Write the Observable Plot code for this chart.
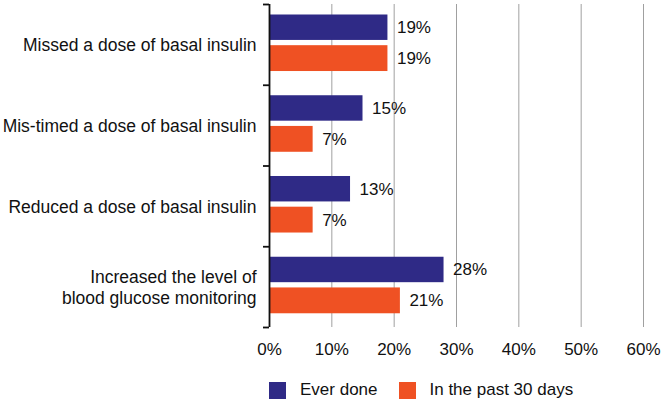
<!DOCTYPE html>
<html>
<head>
<meta charset="utf-8">
<script src="https://cdn.jsdelivr.net/npm/d3@7"></script>
<script src="https://cdn.jsdelivr.net/npm/@observablehq/plot@0.6"></script>
<style>
  body { margin: 0; background: #fff; font-family: "Liberation Sans", Arial, Helvetica, sans-serif; }
  #legend { display: flex; align-items: center; padding-left: 269px; padding-top: 5px; height: 26px; font-size: 17px; color: #111; }
  .item { display: flex; align-items: center; margin-right: 21px; }
  .sw { width: 17px; height: 17px; margin-right: 14px; }
</style>
</head>
<body>
<div id="chart"></div>
<div id="legend"></div>
<script>
const categories = [
  "Missed a dose of basal insulin",
  "Mis-timed a dose of basal insulin",
  "Reduced a dose of basal insulin",
  "Increased the level of\nblood glucose monitoring"
];
const series = ["Ever done", "In the past 30 days"];
const everDone = [19, 15, 13, 28];
const past30Days = [19, 7, 7, 21];
const xTicks = [0, 10, 20, 30, 40, 50, 60];
const colors = ["#2f2a86", "#ef5123"];

// layout: position of each series bar inside a category band (fraction of band)
const barOffsets = [[0.13, 0.445], [0.51, 0.83]];

const rows = [];
categories.forEach((c, i) => {
  [everDone, past30Days].forEach((vals, j) => {
    rows.push({cat: c, series: series[j], value: vals[i], y1: i + barOffsets[j][0], y2: i + barOffsets[j][1]});
  });
});
const labels = categories.map((c, i) => ({cat: c, y: i + 0.5}));

const chart = Plot.plot({
  width: 661,
  height: 372,
  marginLeft: 269,
  marginRight: 18,
  marginTop: 4,
  marginBottom: 45,
  style: {fontFamily: '"Liberation Sans", Arial, Helvetica, sans-serif', fontSize: "17px", color: "#111", background: "#fff", overflow: "visible"},
  x: {domain: [0, 60], ticks: xTicks, tickFormat: d => d + "%", tickSize: 0, tickPadding: 15, label: null},
  y: {domain: [0, categories.length], reverse: true, ticks: d3.range(categories.length + 1), tickFormat: () => "", tickSize: 6, label: null},
  color: {domain: series, range: colors},
  marks: [
    Plot.ruleX(xTicks.filter(d => d > 0), {stroke: "#a0a0a0", strokeWidth: 1}),
    Plot.rectX(rows, {x1: 0, x2: "value", y1: "y1", y2: "y2", fill: "series"}),
    Plot.text(rows, {x: "value", y: d => (d.y1 + d.y2) / 2, text: d => d.value + "%", textAnchor: "start", dx: 9, fontSize: 17}),
    Plot.text(labels, {x: 0, y: "y", text: "cat", textAnchor: "end", dx: -13, fontSize: 17.5, lineHeight: 1.18}),
    Plot.ruleX([0], {stroke: "#111", strokeWidth: 1.8})
  ]
});
chart.querySelectorAll('[aria-label="y-axis"] line, g[aria-label="y-axis tick"] path').forEach(el => { el.setAttribute("stroke-width", "1.8"); });
document.getElementById("chart").appendChild(chart);

const legend = document.getElementById("legend");
series.forEach((s, i) => {
  const item = document.createElement("div");
  item.className = "item";
  const sw = document.createElement("div");
  sw.className = "sw";
  sw.style.background = colors[i];
  const t = document.createElement("span");
  t.textContent = s;
  item.appendChild(sw);
  item.appendChild(t);
  legend.appendChild(item);
});
</script>
</body>
</html>
